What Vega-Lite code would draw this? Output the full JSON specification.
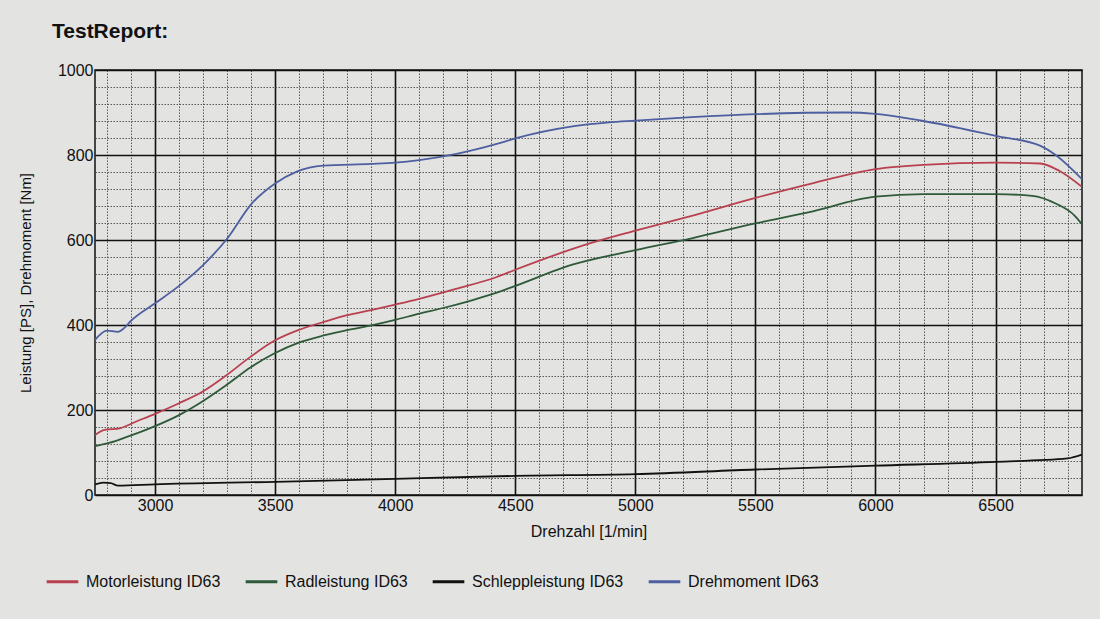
{
  "$schema": "https://vega.github.io/schema/vega-lite/v6.json",
  "width": 987,
  "height": 425,
  "autosize": "none",
  "padding": {"left": 95, "top": 70, "right": 18, "bottom": 124},
  "background": "#e3e3e1",
  "title": {
    "text": "TestReport:",
    "anchor": "start",
    "frame": "group",
    "dx": -43,
    "offset": 20,
    "font": "Liberation Sans",
    "fontSize": 21,
    "fontWeight": "bold",
    "color": "#111111"
  },
  "config": {
    "view": {"stroke": "#111111", "strokeWidth": 1.5, "fill": "#e3e3e1"},
    "font": "Liberation Sans"
  },
  "datasets": {
    "curves": [
      {"rpm": 2750, "value": 365, "series": "Drehmoment ID63"},
      {"rpm": 2800, "value": 387, "series": "Drehmoment ID63"},
      {"rpm": 2845, "value": 384, "series": "Drehmoment ID63"},
      {"rpm": 2870, "value": 392, "series": "Drehmoment ID63"},
      {"rpm": 2900, "value": 410, "series": "Drehmoment ID63"},
      {"rpm": 3000, "value": 451, "series": "Drehmoment ID63"},
      {"rpm": 3100, "value": 492, "series": "Drehmoment ID63"},
      {"rpm": 3200, "value": 541, "series": "Drehmoment ID63"},
      {"rpm": 3300, "value": 603, "series": "Drehmoment ID63"},
      {"rpm": 3400, "value": 684, "series": "Drehmoment ID63"},
      {"rpm": 3500, "value": 733, "series": "Drehmoment ID63"},
      {"rpm": 3590, "value": 761, "series": "Drehmoment ID63"},
      {"rpm": 3700, "value": 775, "series": "Drehmoment ID63"},
      {"rpm": 3900, "value": 779, "series": "Drehmoment ID63"},
      {"rpm": 4000, "value": 782, "series": "Drehmoment ID63"},
      {"rpm": 4100, "value": 788, "series": "Drehmoment ID63"},
      {"rpm": 4250, "value": 802, "series": "Drehmoment ID63"},
      {"rpm": 4423, "value": 826, "series": "Drehmoment ID63"},
      {"rpm": 4500, "value": 839, "series": "Drehmoment ID63"},
      {"rpm": 4745, "value": 868, "series": "Drehmoment ID63"},
      {"rpm": 4890, "value": 877, "series": "Drehmoment ID63"},
      {"rpm": 5000, "value": 881, "series": "Drehmoment ID63"},
      {"rpm": 5235, "value": 889, "series": "Drehmoment ID63"},
      {"rpm": 5500, "value": 896, "series": "Drehmoment ID63"},
      {"rpm": 5880, "value": 900, "series": "Drehmoment ID63"},
      {"rpm": 6000, "value": 897, "series": "Drehmoment ID63"},
      {"rpm": 6200, "value": 880, "series": "Drehmoment ID63"},
      {"rpm": 6500, "value": 845, "series": "Drehmoment ID63"},
      {"rpm": 6685, "value": 822, "series": "Drehmoment ID63"},
      {"rpm": 6750, "value": 800, "series": "Drehmoment ID63"},
      {"rpm": 6860, "value": 743, "series": "Drehmoment ID63"},

      {"rpm": 2750, "value": 141, "series": "Motorleistung ID63"},
      {"rpm": 2790, "value": 153, "series": "Motorleistung ID63"},
      {"rpm": 2853, "value": 157, "series": "Motorleistung ID63"},
      {"rpm": 2922, "value": 173, "series": "Motorleistung ID63"},
      {"rpm": 3000, "value": 191, "series": "Motorleistung ID63"},
      {"rpm": 3100, "value": 216, "series": "Motorleistung ID63"},
      {"rpm": 3197, "value": 243, "series": "Motorleistung ID63"},
      {"rpm": 3293, "value": 280, "series": "Motorleistung ID63"},
      {"rpm": 3397, "value": 325, "series": "Motorleistung ID63"},
      {"rpm": 3500, "value": 364, "series": "Motorleistung ID63"},
      {"rpm": 3596, "value": 388, "series": "Motorleistung ID63"},
      {"rpm": 3707, "value": 408, "series": "Motorleistung ID63"},
      {"rpm": 3800, "value": 423, "series": "Motorleistung ID63"},
      {"rpm": 3900, "value": 435, "series": "Motorleistung ID63"},
      {"rpm": 4000, "value": 448, "series": "Motorleistung ID63"},
      {"rpm": 4096, "value": 461, "series": "Motorleistung ID63"},
      {"rpm": 4253, "value": 485, "series": "Motorleistung ID63"},
      {"rpm": 4423, "value": 513, "series": "Motorleistung ID63"},
      {"rpm": 4500, "value": 530, "series": "Motorleistung ID63"},
      {"rpm": 4810, "value": 592, "series": "Motorleistung ID63"},
      {"rpm": 5000, "value": 622, "series": "Motorleistung ID63"},
      {"rpm": 5235, "value": 657, "series": "Motorleistung ID63"},
      {"rpm": 5500, "value": 699, "series": "Motorleistung ID63"},
      {"rpm": 5720, "value": 731, "series": "Motorleistung ID63"},
      {"rpm": 6000, "value": 767, "series": "Motorleistung ID63"},
      {"rpm": 6200, "value": 777, "series": "Motorleistung ID63"},
      {"rpm": 6500, "value": 782, "series": "Motorleistung ID63"},
      {"rpm": 6685, "value": 780, "series": "Motorleistung ID63"},
      {"rpm": 6765, "value": 763, "series": "Motorleistung ID63"},
      {"rpm": 6860, "value": 725, "series": "Motorleistung ID63"},

      {"rpm": 2750, "value": 115, "series": "Radleistung ID63"},
      {"rpm": 2812, "value": 123, "series": "Radleistung ID63"},
      {"rpm": 2880, "value": 136, "series": "Radleistung ID63"},
      {"rpm": 3000, "value": 162, "series": "Radleistung ID63"},
      {"rpm": 3100, "value": 188, "series": "Radleistung ID63"},
      {"rpm": 3197, "value": 220, "series": "Radleistung ID63"},
      {"rpm": 3293, "value": 257, "series": "Radleistung ID63"},
      {"rpm": 3397, "value": 300, "series": "Radleistung ID63"},
      {"rpm": 3500, "value": 334, "series": "Radleistung ID63"},
      {"rpm": 3596, "value": 358, "series": "Radleistung ID63"},
      {"rpm": 3707, "value": 376, "series": "Radleistung ID63"},
      {"rpm": 3800, "value": 388, "series": "Radleistung ID63"},
      {"rpm": 3900, "value": 399, "series": "Radleistung ID63"},
      {"rpm": 4000, "value": 412, "series": "Radleistung ID63"},
      {"rpm": 4096, "value": 426, "series": "Radleistung ID63"},
      {"rpm": 4200, "value": 440, "series": "Radleistung ID63"},
      {"rpm": 4312, "value": 457, "series": "Radleistung ID63"},
      {"rpm": 4423, "value": 476, "series": "Radleistung ID63"},
      {"rpm": 4500, "value": 492, "series": "Radleistung ID63"},
      {"rpm": 4745, "value": 543, "series": "Radleistung ID63"},
      {"rpm": 5000, "value": 576, "series": "Radleistung ID63"},
      {"rpm": 5235, "value": 604, "series": "Radleistung ID63"},
      {"rpm": 5500, "value": 639, "series": "Radleistung ID63"},
      {"rpm": 5720, "value": 665, "series": "Radleistung ID63"},
      {"rpm": 6000, "value": 702, "series": "Radleistung ID63"},
      {"rpm": 6200, "value": 708, "series": "Radleistung ID63"},
      {"rpm": 6500, "value": 708, "series": "Radleistung ID63"},
      {"rpm": 6653, "value": 704, "series": "Radleistung ID63"},
      {"rpm": 6750, "value": 686, "series": "Radleistung ID63"},
      {"rpm": 6830, "value": 657, "series": "Radleistung ID63"},
      {"rpm": 6860, "value": 637, "series": "Radleistung ID63"},

      {"rpm": 2750, "value": 25, "series": "Schleppleistung ID63"},
      {"rpm": 2785, "value": 29, "series": "Schleppleistung ID63"},
      {"rpm": 2815, "value": 28, "series": "Schleppleistung ID63"},
      {"rpm": 2846, "value": 22, "series": "Schleppleistung ID63"},
      {"rpm": 3000, "value": 25, "series": "Schleppleistung ID63"},
      {"rpm": 3500, "value": 31, "series": "Schleppleistung ID63"},
      {"rpm": 4000, "value": 38, "series": "Schleppleistung ID63"},
      {"rpm": 4500, "value": 45, "series": "Schleppleistung ID63"},
      {"rpm": 5000, "value": 49, "series": "Schleppleistung ID63"},
      {"rpm": 5500, "value": 60, "series": "Schleppleistung ID63"},
      {"rpm": 6000, "value": 69, "series": "Schleppleistung ID63"},
      {"rpm": 6500, "value": 78, "series": "Schleppleistung ID63"},
      {"rpm": 6800, "value": 86, "series": "Schleppleistung ID63"},
      {"rpm": 6860, "value": 95, "series": "Schleppleistung ID63"}
    ]
  },
  "data": {"name": "curves"},
  "mark": {"type": "line", "interpolate": "monotone", "strokeWidth": 1.8, "clip": true},
  "encoding": {
    "x": {
      "field": "rpm",
      "type": "quantitative",
      "scale": {"domain": [2750, 6860], "nice": false, "zero": false},
      "axis": {
        "title": "Drehzahl [1/min]",
        "titleFont": "Liberation Sans",
        "titleFontSize": 16,
        "titleFontWeight": "normal",
        "titleColor": "#111111",
        "titlePadding": 10,
        "values": [2800, 2900, 3000, 3100, 3200, 3300, 3400, 3500, 3600, 3700, 3800, 3900, 4000, 4100, 4200, 4300, 4400, 4500, 4600, 4700, 4800, 4900, 5000, 5100, 5200, 5300, 5400, 5500, 5600, 5700, 5800, 5900, 6000, 6100, 6200, 6300, 6400, 6500, 6600, 6700, 6800],
        "labelExpr": "datum.value % 500 === 0 ? datum.value : ''",
        "format": "d",
        "labelFont": "Liberation Sans",
        "labelFontSize": 16,
        "labelColor": "#111111",
        "labelPadding": 2,
        "labelFlush": false,
        "labelOverlap": false,
        "ticks": false,
        "domain": false,
        "grid": true,
        "gridColor": {"condition": {"test": "datum.value % 500 === 0", "value": "#111111"}, "value": "#5a5a5a"},
        "gridWidth": {"condition": {"test": "datum.value % 500 === 0", "value": 1.6}, "value": 1},
        "gridDash": {"condition": {"test": "datum.value % 500 === 0", "value": []}, "value": [1.5, 1.5]},
        "gridOpacity": 1
      }
    },
    "y": {
      "field": "value",
      "type": "quantitative",
      "scale": {"domain": [0, 1000], "nice": false},
      "axis": {
        "title": "Leistung [PS], Drehmoment [Nm]",
        "titleFont": "Liberation Sans",
        "titleFontSize": 15,
        "titleFontWeight": "normal",
        "titleColor": "#111111",
        "titlePadding": 24,
        "values": [0, 40, 80, 120, 160, 200, 240, 280, 320, 360, 400, 440, 480, 520, 560, 600, 640, 680, 720, 760, 800, 840, 880, 920, 960, 1000],
        "labelExpr": "datum.value % 200 === 0 ? datum.value : ''",
        "format": "d",
        "labelFont": "Liberation Sans",
        "labelFontSize": 16,
        "labelColor": "#111111",
        "labelPadding": 2,
        "labelFlush": false,
        "labelOverlap": false,
        "ticks": false,
        "domain": false,
        "grid": true,
        "gridColor": {"condition": {"test": "datum.value % 200 === 0", "value": "#111111"}, "value": "#5a5a5a"},
        "gridWidth": {"condition": {"test": "datum.value % 200 === 0", "value": 1.6}, "value": 1},
        "gridDash": {"condition": {"test": "datum.value % 200 === 0", "value": []}, "value": [1.5, 1.5]},
        "gridOpacity": 1
      }
    },
    "color": {
      "field": "series",
      "type": "nominal",
      "scale": {
        "domain": ["Motorleistung ID63", "Radleistung ID63", "Schleppleistung ID63", "Drehmoment ID63"],
        "range": ["#b8404f", "#2e5a3a", "#111111", "#4d5fa0"]
      },
      "legend": {
        "title": null,
        "orient": "none",
        "direction": "horizontal",
        "legendX": -50,
        "legendY": 494,
        "symbolType": "stroke",
        "symbolStrokeWidth": 3,
        "symbolSize": 1000,
        "labelFont": "Liberation Sans",
        "labelFontSize": 16,
        "labelColor": "#111111",
        "labelOffset": 6,
        "columnPadding": 18,
        "labelLimit": 300
      }
    }
  }
}
